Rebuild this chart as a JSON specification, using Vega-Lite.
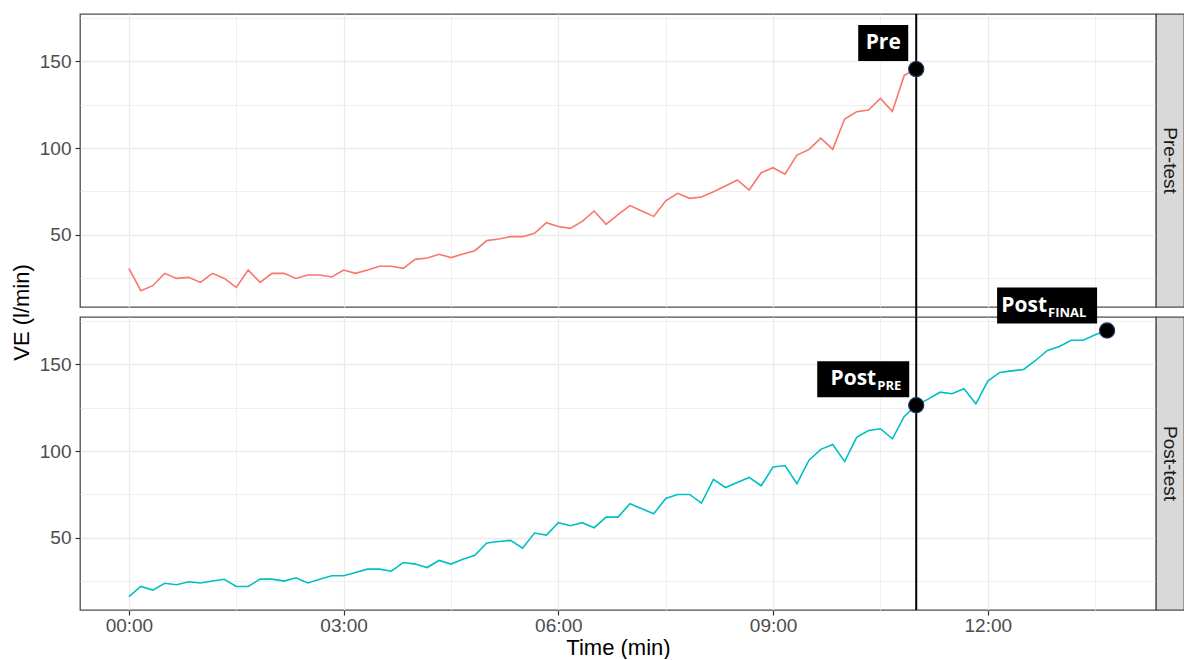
{
  "$schema": "https://vega.github.io/schema/vega-lite/v6.json",
  "background": "white",
  "padding": {"left": 9, "top": 12, "right": 0, "bottom": 0},
  "bounds": "flush",
  "align": "each",
  "columns": 2,
  "spacing": {"row": 10, "column": 0},
  "datasets": {
    "pre": [
      {"t":0,"ve":30.6},{"t":10,"ve":17.7},{"t":20,"ve":20.6},{"t":30,"ve":27.7},{"t":40,"ve":24.8},{"t":50,"ve":25.4},{"t":60,"ve":22.5},{"t":70,"ve":27.7},{"t":80,"ve":24.8},{"t":90,"ve":19.6},
      {"t":100,"ve":29.6},{"t":110,"ve":22.5},{"t":120,"ve":27.7},{"t":130,"ve":27.7},{"t":140,"ve":24.8},{"t":150,"ve":26.8},{"t":160,"ve":26.8},{"t":170,"ve":25.6},{"t":180,"ve":29.6},{"t":190,"ve":27.7},
      {"t":200,"ve":29.6},{"t":210,"ve":31.8},{"t":220,"ve":31.8},{"t":230,"ve":30.6},{"t":240,"ve":35.8},{"t":250,"ve":36.6},{"t":260,"ve":38.7},{"t":270,"ve":36.8},{"t":280,"ve":38.9},{"t":290,"ve":40.8},
      {"t":300,"ve":46.6},{"t":310,"ve":47.5},{"t":320,"ve":48.9},{"t":330,"ve":48.9},{"t":340,"ve":50.8},{"t":350,"ve":57.0},{"t":360,"ve":54.8},{"t":370,"ve":53.7},{"t":380,"ve":57.7},{"t":390,"ve":63.7},
      {"t":400,"ve":56.0},{"t":410,"ve":61.6},{"t":420,"ve":66.8},{"t":430,"ve":63.7},{"t":440,"ve":60.6},{"t":450,"ve":69.6},{"t":460,"ve":73.9},{"t":470,"ve":71.0},{"t":480,"ve":71.8},{"t":490,"ve":74.8},
      {"t":500,"ve":78.1},{"t":510,"ve":81.6},{"t":520,"ve":75.8},{"t":530,"ve":85.8},{"t":540,"ve":88.7},{"t":550,"ve":85.0},{"t":560,"ve":96.0},{"t":570,"ve":99.1},{"t":580,"ve":105.8},{"t":590,"ve":99.3},
      {"t":600,"ve":116.8},{"t":610,"ve":121.0},{"t":620,"ve":122.0},{"t":630,"ve":128.7},{"t":640,"ve":121.2},{"t":650,"ve":142.1},{"t":660,"ve":145.6}
    ],
    "post": [
      {"t":0,"ve":16.0},{"t":10,"ve":21.9},{"t":20,"ve":19.8},{"t":30,"ve":23.7},{"t":40,"ve":22.9},{"t":50,"ve":24.6},{"t":60,"ve":23.9},{"t":70,"ve":25.0},{"t":80,"ve":26.0},{"t":90,"ve":21.9},
      {"t":100,"ve":21.9},{"t":110,"ve":26.1},{"t":120,"ve":26.1},{"t":130,"ve":25.0},{"t":140,"ve":26.9},{"t":150,"ve":23.9},{"t":160,"ve":26.0},{"t":170,"ve":28.1},{"t":180,"ve":28.1},{"t":190,"ve":30.0},
      {"t":200,"ve":31.9},{"t":210,"ve":31.9},{"t":220,"ve":30.7},{"t":230,"ve":35.7},{"t":240,"ve":34.8},{"t":250,"ve":32.8},{"t":260,"ve":36.9},{"t":270,"ve":34.8},{"t":280,"ve":37.6},{"t":290,"ve":39.9},
      {"t":300,"ve":47.0},{"t":310,"ve":47.8},{"t":320,"ve":48.5},{"t":330,"ve":44.0},{"t":340,"ve":52.7},{"t":350,"ve":51.5},{"t":360,"ve":58.7},{"t":370,"ve":56.9},{"t":380,"ve":58.7},{"t":390,"ve":55.8},
      {"t":400,"ve":61.9},{"t":410,"ve":61.9},{"t":420,"ve":69.6},{"t":430,"ve":66.7},{"t":440,"ve":63.8},{"t":450,"ve":72.7},{"t":460,"ve":75.0},{"t":470,"ve":75.0},{"t":480,"ve":70.0},{"t":490,"ve":83.7},
      {"t":500,"ve":79.0},{"t":510,"ve":81.9},{"t":520,"ve":84.8},{"t":530,"ve":80.0},{"t":540,"ve":90.8},{"t":550,"ve":91.7},{"t":560,"ve":81.2},{"t":570,"ve":94.6},{"t":580,"ve":101.0},{"t":590,"ve":103.8},
      {"t":600,"ve":94.0},{"t":610,"ve":107.9},{"t":620,"ve":111.9},{"t":630,"ve":112.9},{"t":640,"ve":107.1},{"t":650,"ve":120.0},{"t":660,"ve":126.5},{"t":670,"ve":130.0},{"t":680,"ve":134.0},{"t":690,"ve":133.1},
      {"t":700,"ve":136.0},{"t":710,"ve":127.3},{"t":720,"ve":140.4},{"t":730,"ve":145.4},{"t":740,"ve":146.3},{"t":750,"ve":147.1},{"t":760,"ve":152.3},{"t":770,"ve":158.1},{"t":780,"ve":160.4},{"t":790,"ve":164.0},
      {"t":800,"ve":164.0},{"t":810,"ve":167.1},{"t":820,"ve":169.6}
    ],
    "marks": [
      {"test":"Pre-test","t":660,"ve":145.6,"label":"Pre","sub":""},
      {"test":"Post-test","t":660,"ve":126.5,"label":"Post","sub":"PRE"},
      {"test":"Post-test","t":820,"ve":169.6,"label":"Post","sub":"FINAL"}
    ]
  },
  "concat": [
    {
      "width": 1076,
      "height": 293,
      "encoding": {
        "x": {"field": "t", "type": "quantitative",
          "scale": {"domain": [-41, 861], "nice": false, "zero": false},
          "axis": {"values": [0,90,180,270,360,450,540,630,720,810], "labels": false, "ticks": false, "title": null,
            "gridWidth": {"condition": {"test": "datum.value % 180 !== 0", "value": 0.8}, "value": 1.3}}},
        "y": {"field": "ve", "type": "quantitative",
          "scale": {"domain": [8.3, 177.4], "nice": false, "zero": false},
          "axis": {"values": [25,50,75,100,125,150,175], "title": "VE (l/min)", "titleY": 298, "titlePadding": 6,
            "labelExpr": "datum.value % 50 === 0 ? datum.label : ''",
            "tickOpacity": {"condition": {"test": "datum.value % 50 !== 0", "value": 0}, "value": 1},
            "gridWidth": {"condition": {"test": "datum.value % 50 !== 0", "value": 0.8}, "value": 1.3}}}
      },
      "layer": [
        {"data": {"name": "pre"}, "mark": {"type": "line", "color": "#F8766D", "strokeWidth": 1.6}},
        {"data": {"name": "marks"}, "transform": [{"filter": "datum.label === 'Pre'"}],
          "mark": {"type": "rule", "color": "black", "strokeWidth": 2},
          "encoding": {"y": {"datum": 177.4}, "y2": {"datum": 2.5}}},
        {"data": {"name": "marks"}, "transform": [{"filter": "datum.label === 'Pre'"}],
          "mark": {"type": "point", "filled": true, "color": "black", "stroke": "#203864", "strokeWidth": 1.2, "size": 230, "opacity": 1}},
        {"data": {"name": "marks"}, "transform": [{"filter": "datum.label === 'Pre'"}],
          "mark": {"type": "rect", "color": "black", "xOffset": -58, "x2Offset": -8, "yOffset": -44, "y2Offset": -8},
          "encoding": {"x2": {"field": "t"}, "y2": {"field": "ve"}}},
        {"data": {"name": "marks"}, "transform": [{"filter": "datum.label === 'Pre'"}],
          "mark": {"type": "text", "color": "white", "font": "Open Sans", "fontWeight": "bold", "fontSize": 21, "align": "center", "baseline": "middle", "dx": -33, "dy": -26},
          "encoding": {"text": {"field": "label"}}}
      ]
    },
    {
      "width": 28,
      "height": 293,
      "view": {"fill": "#D9D9D9", "stroke": "#4D4D4D", "strokeWidth": 1.3},
      "data": {"values": [{"strip": "Pre-test"}]},
      "mark": {"type": "text", "angle": 90, "fontSize": 19, "color": "#1A1A1A", "font": "Liberation Sans"},
      "encoding": {"text": {"field": "strip"}}
    },
    {
      "width": 1076,
      "height": 293,
      "encoding": {
        "x": {"field": "t", "type": "quantitative",
          "scale": {"domain": [-41, 861], "nice": false, "zero": false},
          "axis": {"values": [0,90,180,270,360,450,540,630,720,810], "title": "Time (min)", "labelPadding": 1, "titlePadding": 2,
            "labelExpr": "datum.value % 180 === 0 ? (datum.value < 600 ? '0' : '') + (datum.value / 60) + ':00' : ''",
            "tickOpacity": {"condition": {"test": "datum.value % 180 !== 0", "value": 0}, "value": 1},
            "gridWidth": {"condition": {"test": "datum.value % 180 !== 0", "value": 0.8}, "value": 1.3}}},
        "y": {"field": "ve", "type": "quantitative",
          "scale": {"domain": [8.3, 177.4], "nice": false, "zero": false},
          "axis": {"values": [25,50,75,100,125,150,175], "title": null,
            "labelExpr": "datum.value % 50 === 0 ? datum.label : ''",
            "tickOpacity": {"condition": {"test": "datum.value % 50 !== 0", "value": 0}, "value": 1},
            "gridWidth": {"condition": {"test": "datum.value % 50 !== 0", "value": 0.8}, "value": 1.3}}}
      },
      "layer": [
        {"data": {"name": "post"}, "mark": {"type": "line", "color": "#00BFC4", "strokeWidth": 1.6}},
        {"data": {"name": "marks"}, "transform": [{"filter": "datum.sub === 'PRE'"}],
          "mark": {"type": "rule", "color": "black", "strokeWidth": 2},
          "encoding": {"y": null}},
        {"data": {"name": "marks"}, "transform": [{"filter": "datum.label === 'Post'"}],
          "mark": {"type": "point", "filled": true, "color": "black", "stroke": "#203864", "strokeWidth": 1.2, "size": 230, "opacity": 1}},
        {"data": {"name": "marks"}, "transform": [{"filter": "datum.sub === 'PRE'"}],
          "mark": {"type": "rect", "color": "black", "xOffset": -99, "x2Offset": -7, "yOffset": -44, "y2Offset": -8},
          "encoding": {"x2": {"field": "t"}, "y2": {"field": "ve"}}},
        {"data": {"name": "marks"}, "transform": [{"filter": "datum.sub === 'FINAL'"}],
          "mark": {"type": "rect", "color": "black", "xOffset": -110, "x2Offset": -10, "yOffset": -43, "y2Offset": -7},
          "encoding": {"x2": {"field": "t"}, "y2": {"field": "ve"}}},
        {"data": {"name": "marks"}, "transform": [{"filter": "datum.sub === 'PRE'"}],
          "mark": {"type": "text", "color": "white", "font": "Open Sans", "fontWeight": "bold", "fontSize": 21, "align": "right", "baseline": "alphabetic", "dx": -40, "dy": -20},
          "encoding": {"text": {"field": "label"}}},
        {"data": {"name": "marks"}, "transform": [{"filter": "datum.sub === 'PRE'"}],
          "mark": {"type": "text", "color": "white", "font": "Open Sans", "fontWeight": "bold", "fontSize": 13, "align": "left", "baseline": "alphabetic", "dx": -39, "dy": -15},
          "encoding": {"text": {"field": "sub"}}},
        {"data": {"name": "marks"}, "transform": [{"filter": "datum.sub === 'FINAL'"}],
          "mark": {"type": "text", "color": "white", "font": "Open Sans", "fontWeight": "bold", "fontSize": 21, "align": "right", "baseline": "alphabetic", "dx": -60, "dy": -19},
          "encoding": {"text": {"field": "label"}}},
        {"data": {"name": "marks"}, "transform": [{"filter": "datum.sub === 'FINAL'"}],
          "mark": {"type": "text", "color": "white", "font": "Open Sans", "fontWeight": "bold", "fontSize": 13, "align": "left", "baseline": "alphabetic", "dx": -59, "dy": -14},
          "encoding": {"text": {"field": "sub"}}}
      ]
    },
    {
      "width": 28,
      "height": 293,
      "view": {"fill": "#D9D9D9", "stroke": "#4D4D4D", "strokeWidth": 1.3},
      "data": {"values": [{"strip": "Post-test"}]},
      "mark": {"type": "text", "angle": 90, "fontSize": 19, "color": "#1A1A1A", "font": "Liberation Sans"},
      "encoding": {"text": {"field": "strip"}}
    }
  ],
  "config": {
    "font": "Liberation Sans",
    "view": {"stroke": "#4D4D4D", "strokeWidth": 1.3, "fill": "white"},
    "axis": {
      "domain": false,
      "gridColor": "#EBEBEB",
      "labelColor": "#4D4D4D",
      "labelFont": "Liberation Sans",
      "labelFontSize": 19,
      "labelPadding": 4,
      "tickColor": "#333333",
      "tickSize": 5,
      "tickWidth": 1.2,
      "titleFont": "Liberation Sans",
      "titleFontSize": 22,
      "titleFontWeight": "normal",
      "titleColor": "#000000"
    }
  }
}
